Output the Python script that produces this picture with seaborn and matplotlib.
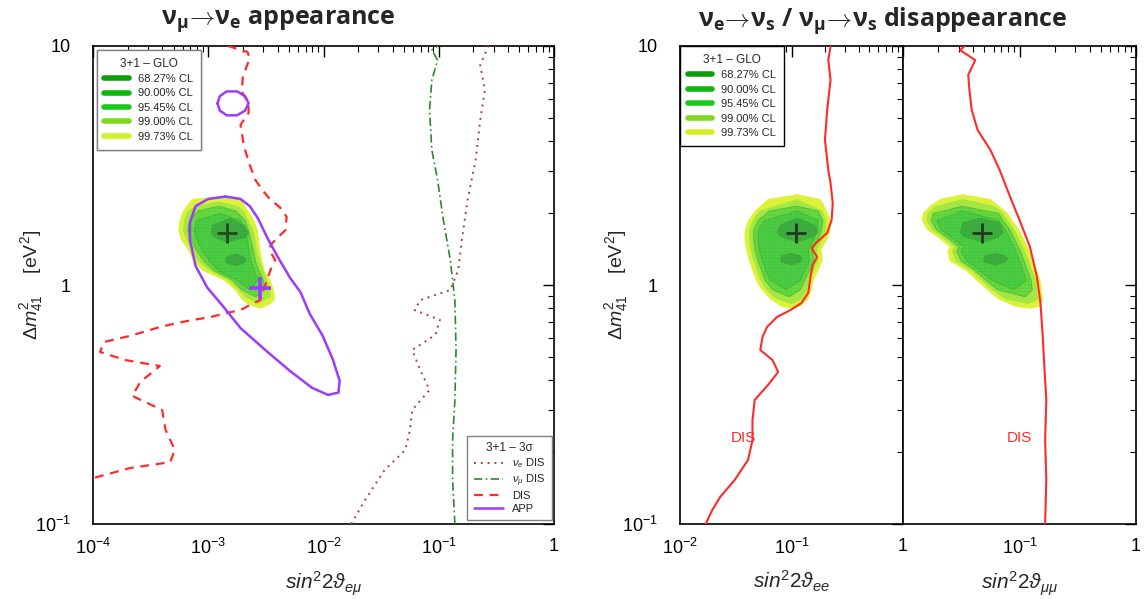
import numpy as np
import matplotlib
matplotlib.use("Agg")
import matplotlib.pyplot as plt
import matplotlib.ticker as mticker
from matplotlib.lines import Line2D
import seaborn as sns

# ---------------------------------------------------------------- data
# all coordinates are log10(sin^2 2theta), log10(dm^2_41 / eV^2)
# global-fit allowed regions: (log dm2, log sin2 left edge, log sin2 right edge)
APP_L5 = ([0.37, 0.36, 0.31, 0.27, 0.23, 0.19, 0.15, 0.10, 0.06, 0.02, -0.02, -0.06, -0.08, -0.10],
          [-2.91, -3.14, -3.22, -3.25, -3.26, -3.24, -3.18, -3.13, -3.05, -2.87, -2.77, -2.71, -2.66, -2.55],
          [-2.91, -2.72, -2.65, -2.60, -2.57, -2.56, -2.55, -2.53, -2.51, -2.46, -2.43, -2.42, -2.46, -2.55])
APP_L4 = ([0.35, 0.33, 0.31, 0.27, 0.23, 0.19, 0.15, 0.10, 0.06, 0.02, -0.02, -0.05, -0.08],
          [-2.91, -3.11, -3.18, -3.21, -3.22, -3.19, -3.15, -3.09, -2.99, -2.83, -2.74, -2.68, -2.57],
          [-2.91, -2.74, -2.69, -2.65, -2.61, -2.59, -2.58, -2.55, -2.52, -2.49, -2.46, -2.46, -2.57])
APP_L3 = ([0.33, 0.31, 0.27, 0.23, 0.19, 0.15, 0.10, 0.06, 0.02, -0.02, -0.05],
          [-2.91, -3.09, -3.16, -3.18, -3.15, -3.11, -3.04, -2.95, -2.79, -2.71, -2.59],
          [-2.91, -2.76, -2.68, -2.65, -2.63, -2.61, -2.59, -2.56, -2.52, -2.51, -2.59])
APP_L2 = ([0.30, 0.27, 0.23, 0.19, 0.15, 0.10, 0.06, 0.02, -0.02],
          [-2.90, -3.10, -3.12, -3.10, -3.06, -2.99, -2.91, -2.75, -2.64],
          [-2.90, -2.72, -2.68, -2.66, -2.65, -2.63, -2.60, -2.57, -2.64])
APP_L1A = ([0.28, 0.25, 0.22, 0.20, 0.18],
           [-2.81, -2.96, -2.98, -2.95, -2.83],
           [-2.81, -2.69, -2.65, -2.67, -2.83])
APP_L1B = ([0.130, 0.117, 0.105, 0.092, 0.080],
           [-2.76, -2.84, -2.85, -2.84, -2.76],
           [-2.76, -2.69, -2.67, -2.69, -2.76])

EE_L5 = ([0.38, 0.36, 0.31, 0.27, 0.23, 0.19, 0.15, 0.10, 0.06, 0.02, -0.02, -0.06, -0.09, -0.10],
         [-0.95, -1.21, -1.33, -1.39, -1.42, -1.42, -1.41, -1.38, -1.35, -1.32, -1.27, -1.19, -1.09, -1.00],
         [-0.95, -0.74, -0.68, -0.65, -0.65, -0.68, -0.73, -0.72, -0.76, -0.80, -0.82, -0.85, -0.92, -1.00])
EE_L4 = ([0.36, 0.31, 0.27, 0.23, 0.19, 0.15, 0.10, 0.06, 0.02, -0.02, -0.06, -0.08],
         [-0.95, -1.29, -1.35, -1.38, -1.38, -1.37, -1.34, -1.31, -1.28, -1.23, -1.13, -1.00],
         [-0.95, -0.72, -0.69, -0.69, -0.72, -0.77, -0.76, -0.80, -0.84, -0.86, -0.90, -1.00])
EE_L3 = ([0.33, 0.31, 0.27, 0.23, 0.19, 0.15, 0.10, 0.06, 0.02, -0.02, -0.05],
         [-0.95, -1.20, -1.30, -1.34, -1.34, -1.33, -1.30, -1.27, -1.24, -1.17, -1.02],
         [-0.95, -0.76, -0.72, -0.73, -0.76, -0.81, -0.80, -0.84, -0.88, -0.92, -1.02])
EE_L2 = ([0.31, 0.27, 0.23, 0.19, 0.15, 0.10, 0.06, 0.02, -0.02],
         [-0.95, -1.24, -1.30, -1.30, -1.29, -1.26, -1.23, -1.19, -1.05],
         [-0.95, -0.76, -0.77, -0.80, -0.85, -0.84, -0.88, -0.92, -1.05])
EE_L1A = ([0.28, 0.25, 0.22, 0.20, 0.18],
          [-0.95, -1.10, -1.13, -1.09, -0.95],
          [-0.95, -0.79, -0.76, -0.81, -0.95])
EE_L1B = ([0.134, 0.121, 0.109, 0.096, 0.084],
          [-1.00, -1.09, -1.10, -1.09, -1.00],
          [-1.00, -0.92, -0.91, -0.92, -1.00])

MM_L5 = ([0.38, 0.36, 0.33, 0.30, 0.27, 0.23, 0.19, 0.16, 0.14, 0.10, 0.06, 0.02, -0.02, -0.06, -0.09, -0.10],
         [-1.49, -1.68, -1.77, -1.83, -1.84, -1.79, -1.68, -1.60, -1.62, -1.60, -1.46, -1.37, -1.28, -1.18, -1.04, -0.91],
         [-1.49, -1.25, -1.17, -1.10, -1.06, -1.00, -0.96, -0.93, -0.91, -0.88, -0.85, -0.82, -0.81, -0.80, -0.82, -0.91])
MM_L4 = ([0.36, 0.33, 0.30, 0.27, 0.23, 0.19, 0.16, 0.14, 0.10, 0.06, 0.02, -0.02, -0.06, -0.08],
         [-1.49, -1.72, -1.79, -1.80, -1.75, -1.64, -1.56, -1.58, -1.55, -1.42, -1.33, -1.24, -1.12, -0.92],
         [-1.49, -1.21, -1.14, -1.10, -1.04, -1.00, -0.97, -0.95, -0.92, -0.89, -0.86, -0.85, -0.84, -0.92])
MM_L3 = ([0.33, 0.30, 0.27, 0.23, 0.19, 0.16, 0.14, 0.10, 0.06, 0.02, -0.02, -0.05],
         [-1.49, -1.74, -1.76, -1.71, -1.60, -1.52, -1.54, -1.50, -1.38, -1.29, -1.19, -0.95],
         [-1.49, -1.18, -1.14, -1.08, -1.04, -1.01, -0.99, -0.96, -0.93, -0.90, -0.89, -0.95])
MM_L2 = ([0.31, 0.27, 0.23, 0.19, 0.16, 0.14, 0.10, 0.06, 0.02, -0.02],
         [-1.49, -1.71, -1.67, -1.56, -1.48, -1.50, -1.45, -1.34, -1.24, -1.05],
         [-1.49, -1.18, -1.12, -1.08, -1.05, -1.03, -1.00, -0.97, -0.94, -1.05])
MM_L1A = ([0.28, 0.26, 0.22, 0.20, 0.18],
          [-1.34, -1.49, -1.51, -1.47, -1.30],
          [-1.34, -1.17, -1.14, -1.18, -1.30])
MM_L1B = ([0.134, 0.121, 0.109, 0.096, 0.084],
          [-1.21, -1.30, -1.31, -1.30, -1.21],
          [-1.21, -1.12, -1.10, -1.12, -1.21])

# best-fit points (sin^2 2theta, dm^2)
BEST_APP = (1.46e-3, 1.65)
BEST_EE = (0.11, 1.65)
BEST_MM = (0.048, 1.65)
BEST_APP_ONLY = (2.8e-3, 0.97)

# 3 sigma bounds, left panel
DIS_X = [-2.83, -2.66, -2.64, -2.70, -2.71, -2.65, -2.65, -2.72, -2.69, -2.64, -2.59, -2.53, -2.46, -2.38,
         -2.32, -2.33, -2.40, -2.46, -2.46, -2.42, -2.46, -2.49, -2.52, -2.55, -2.64, -2.72, -2.84, -2.98,
         -3.13, -3.27, -3.42, -3.68, -3.90, -3.94, -3.72, -3.42, -3.59, -3.66, -3.40, -3.37, -3.29, -3.33,
         -3.68, -4.00]
DIS_Y = [1.00, 0.975, 0.95, 0.87, 0.81, 0.76, 0.72, 0.67, 0.58, 0.502, 0.439, 0.397, 0.356, 0.326,
         0.285, 0.230, 0.197, 0.167, 0.138, 0.105, 0.063, 0.021, -0.021, -0.063, -0.084, -0.105, -0.117, -0.134,
         -0.146, -0.159, -0.176, -0.213, -0.238, -0.280, -0.314, -0.339, -0.406, -0.464, -0.523, -0.607, -0.690,
         -0.741, -0.766, -0.808]
NUE_DIS_X = [-1.76, -1.64, -1.47, -1.29, -1.25, -1.23, -1.08, -1.16, -1.23, -1.03, -0.99, -1.21, -1.16,
             -0.90, -0.83, -0.80, -0.75, -0.68, -0.64, -0.60, -0.64, -0.57]
NUE_DIS_Y = [-1.00, -0.90, -0.774, -0.69, -0.607, -0.523, -0.439, -0.356, -0.272, -0.209, -0.146, -0.105, -0.063,
             -0.021, 0.063, 0.188, 0.356, 0.523, 0.690, 0.816, 0.921, 1.00]
NUMU_DIS_X = [-0.86, -0.88, -0.88, -0.86, -0.85, -0.86, -0.90, -0.96, -1.01, -1.06, -1.08, -1.06, -1.01, -1.06, -1.01]
NUMU_DIS_Y = [-1.00, -0.816, -0.649, -0.481, -0.272, -0.063, 0.105, 0.272, 0.439, 0.565, 0.732, 0.858, 0.941, 0.983, 1.00]
APP_X = [-2.85, -2.72, -2.64, -2.57, -2.49, -2.40, -2.29, -2.20, -2.12, -2.01, -1.92, -1.86, -1.87, -1.96,
         -2.10, -2.29, -2.51, -2.72, -2.87, -3.01, -3.11, -3.16, -3.16, -3.11, -3.00, -2.85]
APP_Y = [0.37, 0.36, 0.33, 0.28, 0.20, 0.12, 0.03, -0.03, -0.12, -0.21, -0.31, -0.40, -0.45, -0.46,
         -0.43, -0.36, -0.27, -0.18, -0.09, -0.01, 0.08, 0.19, 0.26, 0.33, 0.36, 0.37]
APP_ISLAND_X = [-2.92, -2.90, -2.84, -2.75, -2.68, -2.65, -2.68, -2.75, -2.84, -2.90, -2.92]
APP_ISLAND_Y = [0.76, 0.79, 0.81, 0.81, 0.79, 0.76, 0.73, 0.71, 0.71, 0.73, 0.76]

# 3 sigma DIS bounds, right panels
EE_DIS_X = [-1.77, -1.71, -1.64, -1.51, -1.39, -1.35, -1.35, -1.33, -1.21, -1.12, -1.17, -1.28, -1.26, -1.22,
            -1.13, -1.01, -0.91, -0.85, -0.83, -0.81, -0.77, -0.82, -0.77, -0.68, -0.64, -0.63, -0.65, -0.67,
            -0.70, -0.68, -0.65, -0.67, -0.65]
EE_DIS_Y = [-1.00, -0.941, -0.887, -0.816, -0.732, -0.649, -0.565, -0.481, -0.418, -0.364, -0.314, -0.272, -0.218,
            -0.176, -0.134, -0.105, -0.075, -0.033, 0.033, 0.084, 0.117, 0.155, 0.180, 0.218, 0.272, 0.343, 0.427,
            0.481, 0.607, 0.732, 0.858, 0.941, 1.00]
MM_DIS_X = [-1.47, -1.51, -1.38, -1.44, -1.43, -1.41, -1.36, -1.25, -1.17, -1.08, -1.00, -0.91, -0.85, -0.82,
            -0.80, -0.79, -0.77, -0.78, -0.77, -0.78]
MM_DIS_Y = [1.00, 0.983, 0.941, 0.879, 0.816, 0.732, 0.649, 0.565, 0.481, 0.368, 0.272, 0.159, 0.033, -0.075,
            -0.218, -0.314, -0.481, -0.649, -0.816, -1.00]

CL_LABELS = ["68.27% CL", "90.00% CL", "95.45% CL", "99.00% CL", "99.73% CL"]
CL_LEGEND_COLORS = ["#0a9c0a", "#0eb80e", "#1cc81c", "#7fd91c", "#d4ef22"]
REGION_COLORS = ["#3fae40", "#4cce44", "#66da40", "#a6e642", "#dcf23a"]

LEFT_XTICKS = [1e-4, 1e-3, 1e-2, 1e-1, 1]
LEFT_XTICKLABELS = [r"$10^{-4}$", r"$10^{-3}$", r"$10^{-2}$", r"$10^{-1}$", "1"]
MID_XTICKS = [1e-2, 1e-1, 1]
MID_XTICKLABELS = [r"$10^{-2}$", r"$10^{-1}$", "1"]
RIGHT_XTICKS = [1e-2, 1e-1, 1]
RIGHT_XTICKLABELS = ["", r"$10^{-1}$", "1"]
YTICKS = [0.1, 1, 10]
YTICKLABELS = [r"$10^{-1}$", "1", "10"]

# ---------------------------------------------------------------- style
sns.set_theme(style="white")
plt.rcParams.update({
    "font.family": ["Liberation Sans", "DejaVu Sans"],
    "mathtext.fontset": "custom",
    "mathtext.rm": "Liberation Sans",
    "mathtext.it": "Liberation Sans:italic",
    "mathtext.bf": "Liberation Sans:bold",
    "mathtext.sf": "Open Sans:bold",
    "hatch.linewidth": 0.3,
    "axes.edgecolor": "black",
    "axes.linewidth": 1.0,
    "xtick.color": "black",
    "ytick.color": "black",
})

W, H = 1146, 599
fig = plt.figure(figsize=(W / 100, H / 100), dpi=100)


def box(x0, x1, y0=46, y1=524):
    return [x0 / W, 1 - y1 / H, (x1 - x0) / W, (y1 - y0) / H]


axL = fig.add_axes(box(93, 554))
axM = fig.add_axes(box(680, 903))
axR = fig.add_axes(box(903, 1136))


def setup(ax, xlim, xticks, xlabels, show_y):
    ax.set_xscale("log")
    ax.set_yscale("log")
    ax.set_xlim(*xlim)
    ax.set_ylim(0.1, 10)
    ax.set_xticks(xticks)
    ax.set_xticklabels(xlabels)
    ax.set_yticks(YTICKS)
    ax.set_yticklabels(YTICKLABELS if show_y else [""] * 3)
    ax.xaxis.set_minor_locator(mticker.LogLocator(base=10, subs=np.arange(2, 10)))
    ax.yaxis.set_minor_locator(mticker.LogLocator(base=10, subs=np.arange(2, 10)))
    ax.xaxis.set_minor_formatter(mticker.NullFormatter())
    ax.yaxis.set_minor_formatter(mticker.NullFormatter())
    ax.tick_params(which="both", direction="in", top=True, right=True, labelsize=13)
    ax.tick_params(which="major", length=8, width=1.0)
    ax.tick_params(which="minor", length=4, width=0.8)
    ax.tick_params(axis="x", which="major", pad=10)
    ax.tick_params(axis="y", which="major", pad=16)
    for s in ax.spines.values():
        s.set_linewidth(1.2)
        s.set_color("black")


def draw_regions(ax, regs):
    # regs: [L5, L4, L3, L2, L1a, L1b]
    cols = [REGION_COLORS[4], REGION_COLORS[3], REGION_COLORS[2], REGION_COLORS[1], REGION_COLORS[0], REGION_COLORS[0]]
    for i, (reg, c) in enumerate(zip(regs, cols)):
        y, xl, xr = (10 ** np.asarray(a, float) for a in reg)
        hatch = "+++++" if i >= 2 else None
        ax.fill_betweenx(y, xl, xr, facecolor=c, edgecolor=(0.1, 0.45, 0.1, 0.18) if hatch else "none",
                         linewidth=0, hatch=hatch, zorder=1 + i * 0.1)
        if i >= 2:
            ax.fill_betweenx(y, xl, xr, facecolor="none", edgecolor="#30a032", linewidth=0.5,
                             alpha=0.6, zorder=1.05 + i * 0.1)


def cl_legend(ax, edge, **kw):
    handles = [Line2D([], [], color=c, lw=4, solid_capstyle="round") for c in CL_LEGEND_COLORS]
    lg = ax.legend(handles, CL_LABELS, title="3+1 \u2013 GLO", fontsize=8, title_fontsize=8.5,
                   frameon=True, fancybox=False, framealpha=1, edgecolor=edge,
                   handlelength=2.2, handletextpad=0.8, labelspacing=0.40, borderpad=0.7, **kw)
    lg.get_frame().set_linewidth(1.0)
    lg.set_zorder(10)
    return lg


# ---------------------------------------------------------------- left panel
setup(axL, (1e-4, 1), LEFT_XTICKS, LEFT_XTICKLABELS, True)
draw_regions(axL, [APP_L5, APP_L4, APP_L3, APP_L2, APP_L1A, APP_L1B])

sns.lineplot(x=10 ** np.array(DIS_X), y=10 ** np.array(DIS_Y), sort=False, estimator=None, ax=axL,
             color="#ff2a2a", linewidth=1.6, linestyle=(0, (4, 3)), zorder=3)
sns.lineplot(x=10 ** np.array(NUE_DIS_X), y=10 ** np.array(NUE_DIS_Y), sort=False, estimator=None, ax=axL,
             color="#b0403a", linewidth=1.4, linestyle=(0, (1, 2.5)), zorder=3)
sns.lineplot(x=10 ** np.array(NUMU_DIS_X), y=10 ** np.array(NUMU_DIS_Y), sort=False, estimator=None, ax=axL,
             color="#2a8a2a", linewidth=1.2, linestyle=(0, (5, 2, 1, 2)), zorder=3)
sns.lineplot(x=10 ** np.array(APP_X), y=10 ** np.array(APP_Y), sort=False, estimator=None, ax=axL,
             color="#9b3bff", linewidth=1.8, zorder=3)
sns.lineplot(x=10 ** np.array(APP_ISLAND_X), y=10 ** np.array(APP_ISLAND_Y), sort=False, estimator=None, ax=axL,
             color="#9b3bff", linewidth=1.8, zorder=3)
axL.plot(*BEST_APP, marker="+", ms=14, mew=2, color="#1e4a1e", zorder=5)
axL.plot(*BEST_APP_ONLY, marker="+", ms=16, mew=2.6, color="#9b3bff", zorder=5)

h2 = [Line2D([], [], color="#b0403a", lw=1.4, ls=(0, (1, 2.5))),
      Line2D([], [], color="#2a8a2a", lw=1.2, ls=(0, (5, 2, 1, 2))),
      Line2D([], [], color="#ff2a2a", lw=1.6, ls=(0, (4, 3))),
      Line2D([], [], color="#9b3bff", lw=1.8)]
lg2 = axL.legend(h2, [r"$\nu_e$ DIS", r"$\nu_\mu$ DIS", "DIS", "APP"], title="3+1 \u2013 3\u03c3",
                 loc="lower right", bbox_to_anchor=(0.995, 0.008), borderaxespad=0, fontsize=8,
                 title_fontsize=8.5, frameon=True, fancybox=False, framealpha=1, edgecolor="#808080",
                 handlelength=2.6, labelspacing=0.2, borderpad=0.6)
lg2.set_zorder(10)
axL.add_artist(cl_legend(axL, "#808080", loc="upper left", bbox_to_anchor=(0.008, 0.992), borderaxespad=0))
axL.add_artist(lg2)

axL.set_xlabel(r"$sin^2 2\vartheta_{e\mu}$", fontsize=15, labelpad=8)
axL.set_ylabel(r"$\Delta m^2_{41}$    [eV$^2$]", fontsize=14)
axL.yaxis.set_label_coords(-48 / 461, 0.5)

# ---------------------------------------------------------------- middle panel
setup(axM, (1e-2, 1), MID_XTICKS, MID_XTICKLABELS, True)
draw_regions(axM, [EE_L5, EE_L4, EE_L3, EE_L2, EE_L1A, EE_L1B])
sns.lineplot(x=10 ** np.array(EE_DIS_X), y=10 ** np.array(EE_DIS_Y), sort=False, estimator=None, ax=axM,
             color="#ff2a2a", linewidth=1.5, zorder=3)
axM.plot(*BEST_EE, marker="+", ms=14, mew=2, color="#1e3a1e", zorder=5)
cl_legend(axM, "black", loc="upper left", bbox_to_anchor=(0, 1), borderaxespad=0)
axM.text(0.037, 0.23, "DIS", color="#ff2a2a", fontsize=11, ha="center", va="center")
axM.set_xlabel(r"$sin^2 2\vartheta_{ee}$", fontsize=15, labelpad=8)
axM.set_ylabel(r"$\Delta m^2_{41}$    [eV$^2$]", fontsize=14)
axM.yaxis.set_label_coords(-50 / 223, 0.5)

# ---------------------------------------------------------------- right panel
setup(axR, (1e-2, 1), RIGHT_XTICKS, RIGHT_XTICKLABELS, False)
draw_regions(axR, [MM_L5, MM_L4, MM_L3, MM_L2, MM_L1A, MM_L1B])
sns.lineplot(x=10 ** np.array(MM_DIS_X), y=10 ** np.array(MM_DIS_Y), sort=False, estimator=None, ax=axR,
             color="#ff2a2a", linewidth=1.5, zorder=3)
axR.plot(*BEST_MM, marker="+", ms=14, mew=2, color="#1e3a1e", zorder=5)
axR.text(0.1, 0.23, "DIS", color="#ff2a2a", fontsize=11, ha="center", va="center")
axR.set_xlabel(r"$sin^2 2\vartheta_{\mu\mu}$", fontsize=15, labelpad=8)

# ---------------------------------------------------------------- titles
fig.text(278 / W, 1 - 21 / H, r"$\mathsf{\nu_{\mu}\!\rightarrow\!\nu_{e}}$ appearance",
         fontsize=18, fontweight="bold", family="Open Sans", ha="center", va="center")
fig.text(883 / W, 1 - 21 / H,
         r"$\mathsf{\nu_{e}\!\rightarrow\!\nu_{s}}$ / $\mathsf{\nu_{\mu}\!\rightarrow\!\nu_{s}}$ disappearance",
         fontsize=18, fontweight="bold", family="Open Sans", ha="center", va="center")

fig.savefig("out.png", dpi=100, facecolor="white")
